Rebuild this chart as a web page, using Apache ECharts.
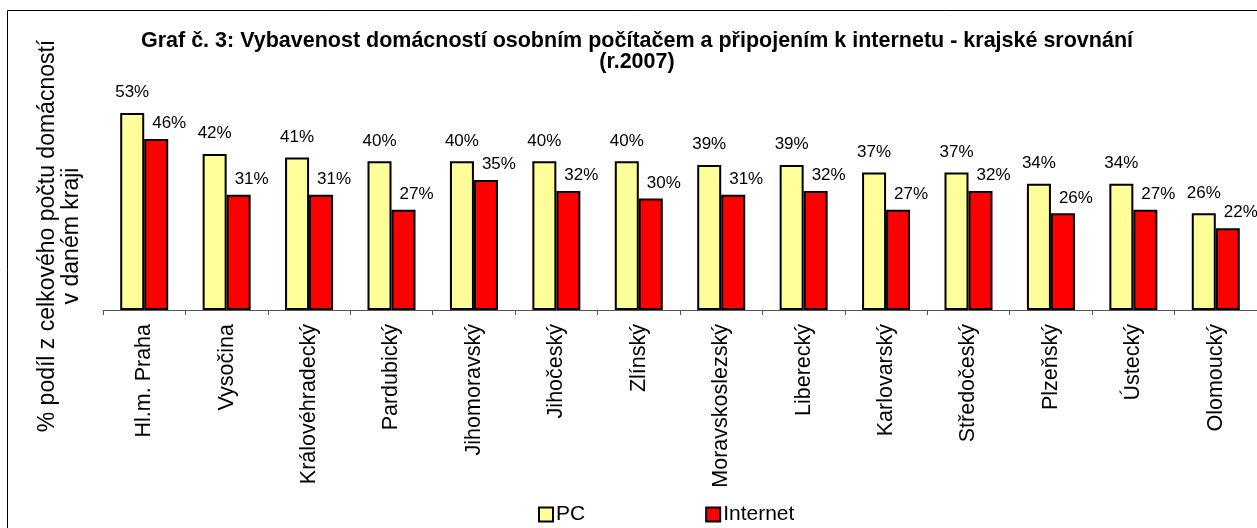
<!DOCTYPE html>
<html><head><meta charset="utf-8">
<script src="https://cdn.jsdelivr.net/npm/echarts@6/dist/echarts.min.js"></script>
<style>html,body{margin:0;padding:0;background:#fff}#c{width:1257px;height:528px}</style>
</head><body><div id="c"></div>
<script>
const categories = ['Hl.m. Praha','Vysočina','Královéhradecký','Pardubický','Jihomoravský','Jihočeský','Zlínský','Moravskoslezský','Liberecký','Karlovarský','Středočeský','Plzeňský','Ústecký','Olomoucký'];
const pcValues = [53,42,41,40,40,40,40,39,39,37,37,34,34,26];
const internetValues = [46,31,31,27,35,32,30,31,32,27,32,26,27,22];
const titleText = 'Graf č. 3: Vybavenost domácností osobním počítačem a připojením k internetu - krajské srovnání\n(r.2007)';
const yTitle = '% podíl z celkového počtu domácností\nv daném kraji';

const F = 'Arial, "Liberation Sans", sans-serif';
const chart = echarts.init(document.getElementById('c'));
chart.setOption({
  animation: false,
  textStyle: {fontFamily: F, color: '#000'},
  title: {text: titleText, left: 637, top: 31, textAlign: 'center', padding: 0,
    textStyle: {fontFamily: F, fontSize: 21.5, fontWeight: 'bold', color: '#000', lineHeight: 21}},
  graphic: [
    {type: 'rect', shape: {x: 7.5, y: 10.5, width: 1400, height: 700}, style: {fill: 'none', stroke: '#000', lineWidth: 1}, silent: true},
    {type: 'text', x: 60, y: 236, rotation: Math.PI/2, style: {text: yTitle, fontFamily: F, fontSize: 23, fill: '#000', align: 'center', verticalAlign: 'middle', lineHeight: 24}}
  ],
  legend: {left: 533, top: 499, itemWidth: 14, itemHeight: 14, itemGap: 120,
    textStyle: {fontFamily: F, fontSize: 21, color: '#000', padding: [0,0,0,-2]},
    data: [{name: 'PC', icon: 'rect'}, {name: 'Internet', icon: 'rect'}]},
  grid: {left: 103, right: -8, top: 87, height: 223, containLabel: false},
  xAxis: {type: 'category', data: categories,
    axisLine: {lineStyle: {color: '#555', width: 1}},
    axisTick: {show: true, length: 5, lineStyle: {color: '#555'}},
    axisLabel: {rotate: 90, fontFamily: F, fontSize: 21.5, color: '#000', margin: 14, interval: 0}},
  yAxis: {type: 'value', min: 0, max: 60, show: false, splitLine: {show: false}},
  series: [
    {name: 'PC', type: 'bar', data: pcValues, barWidth: 24, barGap: '0%',
      itemStyle: {color: '#FFFF99', borderColor: '#000', borderWidth: 2},
      label: {show: true, position: 'top', distance: 12, formatter: '{c}%', fontFamily: F, fontSize: 17, color: '#000'}},
    {name: 'Internet', type: 'bar', data: internetValues, barWidth: 24,
      itemStyle: {color: '#FF0000', borderColor: '#000', borderWidth: 2},
      label: {show: true, position: 'top', distance: 7, offset: [13, 0], formatter: '{c}%', fontFamily: F, fontSize: 17, color: '#000'}}
  ]
});
</script></body></html>
